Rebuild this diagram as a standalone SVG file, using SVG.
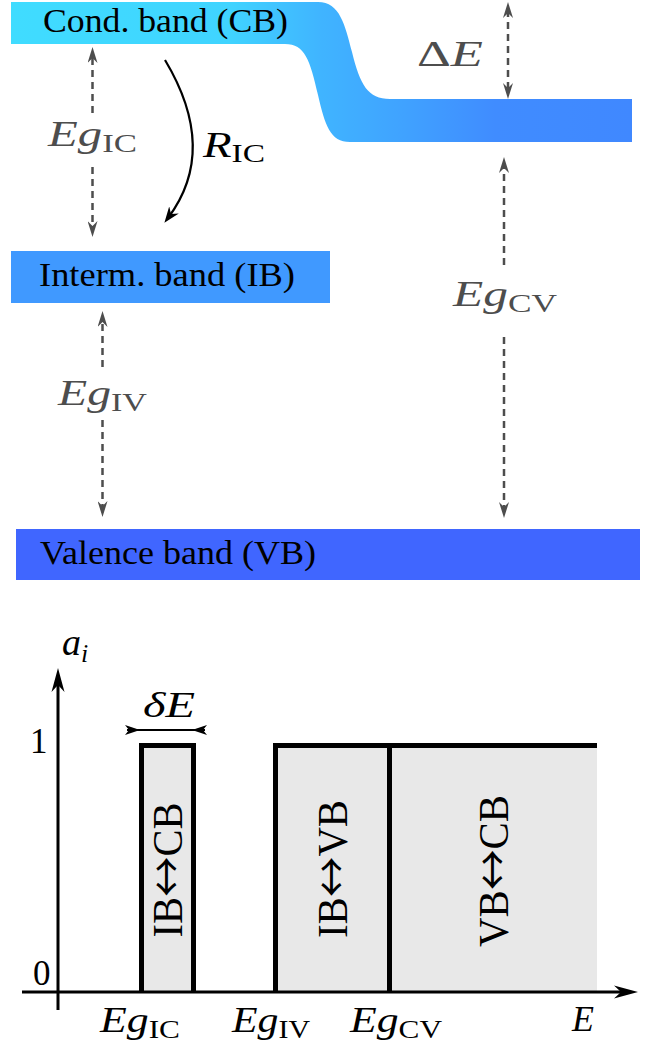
<svg xmlns="http://www.w3.org/2000/svg" width="652" height="1047" viewBox="0 0 652 1047">
<style>
  .band { font-family: "Liberation Serif", "DejaVu Serif", serif; font-size: 33px; fill: #000; }
  .mg { font-family: "Liberation Serif", "DejaVu Serif", serif; font-size: 35px; fill: #4D4D4D; }
  .mb { font-family: "Liberation Serif", "DejaVu Serif", serif; font-size: 35px; fill: #000; }
  .it { font-style: italic; }
  .sub { font-size: 25px; font-style: normal; }
  .dash { stroke: #4D4D4D; stroke-width: 2.5; stroke-dasharray: 7 5; fill: none; }
  .bar { stroke: #000; stroke-width: 5; fill: none; }
  .axis { stroke: #000; stroke-width: 3; fill: none; }
  .rot { font-family: "Liberation Serif", "DejaVu Serif", serif; font-size: 42px; fill: #000; text-anchor: middle; }
  .arr { font-family: "Noto Sans CJK JP", "DejaVu Sans", sans-serif; }
</style>
<defs>
  <linearGradient id="cbgrad" gradientUnits="userSpaceOnUse" x1="11" y1="0" x2="632" y2="0">
    <stop offset="0" stop-color="#40DCFF"/>
    <stop offset="0.35" stop-color="#40D4FF"/>
    <stop offset="0.5" stop-color="#40B4FF"/>
    <stop offset="0.62" stop-color="#40A4FF"/>
    <stop offset="0.78" stop-color="#408CFF"/>
    <stop offset="1" stop-color="#4088FF"/>
  </linearGradient>
  <marker id="gh" viewBox="-16 -5 17 10" refX="-8" refY="0" markerWidth="17" markerHeight="10" markerUnits="userSpaceOnUse" orient="auto-start-reverse">
    <path d="M0,0 L-16,-5 L-11,0 L-16,5 Z" fill="#4D4D4D"/>
  </marker>
  <marker id="bh" viewBox="-16 -6 17 12" refX="-6" refY="0" markerWidth="17" markerHeight="12" markerUnits="userSpaceOnUse" orient="auto">
    <path d="M0,0 L-16,-6 L-11,0 L-16,6 Z" fill="#000"/>
  </marker>
  <marker id="ax" viewBox="-25 -7 26 14" refX="-14" refY="0" markerWidth="26" markerHeight="14" markerUnits="userSpaceOnUse" orient="auto">
    <path d="M0,0 L-24,-6.5 L-17,0 L-24,6.5 Z" fill="#000"/>
  </marker>
</defs>

<g id="cb">
  <path d="M11,2 H318 C340,2 345,25 352,52 C360,85 368,99 390,99 H632 V142 H350 C330,142 325,125 318,95 C310,60 305,44 285,44 H11 Z" fill="url(#cbgrad)"/>
  <text class="band" x="43" y="32" textLength="245" lengthAdjust="spacingAndGlyphs">Cond. band (CB)</text>
</g>

<g id="ib">
  <rect x="11" y="251" width="319" height="52" fill="#4099FF"/>
  <text class="band" x="39" y="286" textLength="256" lengthAdjust="spacingAndGlyphs">Interm. band (IB)</text>
</g>

<g id="vb">
  <rect x="16" y="529" width="624" height="51" fill="#4066FF"/>
  <text class="band" x="40" y="564" textLength="276" lengthAdjust="spacingAndGlyphs">Valence band (VB)</text>
</g>

<g id="connectors">
  <line class="dash" x1="92.5" y1="113" x2="92.5" y2="55" marker-end="url(#gh)"/>
  <line class="dash" x1="92.5" y1="167" x2="92.5" y2="229" marker-end="url(#gh)"/>
  <line class="dash" x1="102.5" y1="367" x2="102.5" y2="319" marker-end="url(#gh)"/>
  <line class="dash" x1="102.5" y1="420" x2="102.5" y2="509" marker-end="url(#gh)"/>
  <line class="dash" x1="508" y1="10" x2="508" y2="91" marker-start="url(#gh)" marker-end="url(#gh)"/>
  <line class="dash" x1="504" y1="265" x2="504" y2="165" marker-end="url(#gh)"/>
  <line class="dash" x1="504" y1="337" x2="504" y2="510" marker-end="url(#gh)"/>
  <path d="M165,60 Q219,150 168,218" fill="none" stroke="#000" stroke-width="2.2" marker-end="url(#bh)"/>
</g>

<g id="labels-top">
  <text class="mg" x="48" y="146" textLength="89" lengthAdjust="spacingAndGlyphs"><tspan class="it">Eg</tspan><tspan class="sub" dy="6">IC</tspan></text>
  <text class="mg" x="58" y="405" textLength="89" lengthAdjust="spacingAndGlyphs"><tspan class="it">Eg</tspan><tspan class="sub" dy="6">IV</tspan></text>
  <text class="mg" x="453" y="306" textLength="104" lengthAdjust="spacingAndGlyphs"><tspan class="it">Eg</tspan><tspan class="sub" dy="6">CV</tspan></text>
  <text class="mg" x="417" y="66" textLength="66" lengthAdjust="spacingAndGlyphs">Δ<tspan class="it">E</tspan></text>
  <text class="mb" x="203" y="157" textLength="62" lengthAdjust="spacingAndGlyphs"><tspan class="it">R</tspan><tspan class="sub" dy="5">IC</tspan></text>
</g>

<g id="plot">
  <rect x="141.5" y="745.5" width="52" height="246.5" fill="#E8E8E8"/>
  <rect x="275.5" y="745.5" width="321.5" height="246.5" fill="#E8E8E8"/>
  <path class="bar" d="M141.5,992 V745.5 H193.5 V992"/>
  <path class="bar" d="M275.5,992 V745.5 H597"/>
  <path class="bar" d="M389.5,745.5 V992"/>
  <line class="axis" x1="22" y1="992" x2="624" y2="992" marker-end="url(#ax)"/>
  <line class="axis" x1="58" y1="1010" x2="58" y2="682" marker-end="url(#ax)"/>
  <line x1="127" y1="730" x2="205" y2="730" stroke="#000" stroke-width="2"/>
  <path d="M140,730 L125,725 L129,730 L125,735 Z" fill="#000"/>
  <path d="M192,730 L207,725 L203,730 L207,735 Z" fill="#000"/>
  <text class="rot" transform="translate(182,870) rotate(-90)" textLength="135" lengthAdjust="spacingAndGlyphs">IB<tspan class="arr">↔</tspan>CB</text>
  <text class="rot" transform="translate(347,869) rotate(-90)" textLength="138" lengthAdjust="spacingAndGlyphs">IB<tspan class="arr">↔</tspan>VB</text>
  <text class="rot" transform="translate(508,871) rotate(-90)" textLength="152" lengthAdjust="spacingAndGlyphs">VB<tspan class="arr">↔</tspan>CB</text>
</g>

<g id="labels-plot">
  <text class="mb" x="62" y="655" style="font-size:38px"><tspan class="it">a</tspan><tspan class="sub" dy="7" style="font-style:italic;font-size:26px">i</tspan></text>
  <text class="mb" x="143" y="717" textLength="52" lengthAdjust="spacingAndGlyphs"><tspan class="it">δE</tspan></text>
  <text class="mb" x="30" y="753">1</text>
  <text class="mb" x="33" y="985">0</text>
  <text class="mb" x="100" y="1032" textLength="80" lengthAdjust="spacingAndGlyphs"><tspan class="it">Eg</tspan><tspan class="sub" dy="6">IC</tspan></text>
  <text class="mb" x="232" y="1032" textLength="78" lengthAdjust="spacingAndGlyphs"><tspan class="it">Eg</tspan><tspan class="sub" dy="6">IV</tspan></text>
  <text class="mb" x="350" y="1032" textLength="92" lengthAdjust="spacingAndGlyphs"><tspan class="it">Eg</tspan><tspan class="sub" dy="6">CV</tspan></text>
  <text class="mb" x="572" y="1031" style="font-size:36px"><tspan class="it">E</tspan></text>
</g>
</svg>
